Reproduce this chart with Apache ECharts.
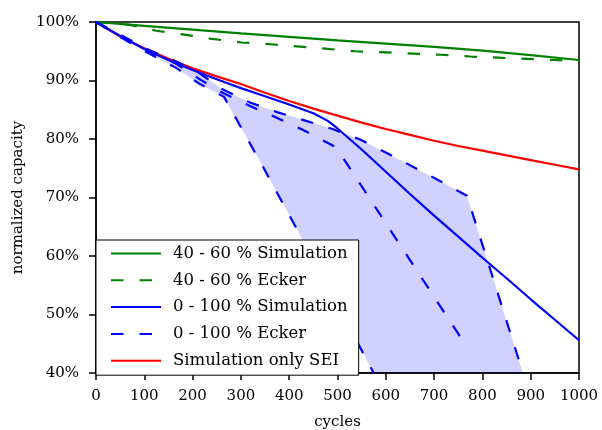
<!DOCTYPE html>
<html>
<head>
<meta charset="utf-8">
<script src="https://cdn.jsdelivr.net/npm/echarts@6/dist/echarts.min.js"></script>
<style>
  html, body { margin: 0; padding: 0; background: #fff; }
  #chart { width: 602px; height: 430px; }
</style>
</head>
<body>
<div id="chart"></div>
<script>
// Capacity fade over cycles: [cycle, normalized capacity in %]
const sim4060 = [[0,100],[100,99.35],[200,98.7],[300,98.05],[400,97.45],[500,96.85],[600,96.3],[700,95.75],[800,95.1],[900,94.35],[1000,93.5]];
const ecker4060 = [[0,100],[70,99.5],[125,98.5],[186,97.8],[241,97.1],[302,96.5],[362,96.2],[422,95.8],[480,95.4],[536,95.0],[600,94.8],[657,94.6],[715,94.4],[775,94.1],[833,93.9],[892,93.7],[950,93.5],[1000,93.3]];
const sim0100 = [[0,100],[50,97.6],[100,95.4],[150,93.5],[200,91.8],[250,90.2],[300,88.7],[350,87.3],[400,85.9],[450,84.4],[480,83.1],[500,81.8],[525,80.0],[550,78.2],[600,74.4],[650,70.6],[700,66.9],[750,63.3],[800,59.7],[850,56.2],[900,52.6],[950,49.1],[1000,45.6]];
// Ecker 0-100 % measurements: upper, middle and lower cell
const ecker0100Max = [[0,100],[55,97.6],[110,95.2],[165,93.3],[215,91.2],[262,88.5],[320,86.2],[375,84.6],[435,83.1],[490,81.7],[547,79.9],[600,77.7],[660,75.1],[715,72.7],[768,70.3],[884,40]];
const ecker0100Mid = [[0,100],[55,97.4],[110,94.9],[165,92.9],[215,90.2],[262,87.9],[320,85.6],[375,83.6],[430,81.5],[497,78.6],[754,46.2]];
const ecker0100Min = [[0,100],[55,97.2],[110,94.6],[165,92.2],[215,89.4],[265,87.2],[346,75.2],[427,62.9],[575,40]];
const simSEI = [[0,100],[50,97.5],[100,95.5],[150,93.7],[200,92.1],[250,90.7],[300,89.4],[350,87.9],[400,86.5],[450,85.2],[500,84.0],[550,82.8],[600,81.7],[650,80.7],[700,79.7],[750,78.8],[800,78.0],[850,77.2],[900,76.4],[950,75.6],[1000,74.8]];

const legendNames = ['40 - 60 % Simulation', '40 - 60 % Ecker', '0 - 100 % Simulation', '0 - 100 % Ecker', 'Simulation only SEI'];

const FONT = '"DejaVu Serif", serif';
const DASH = [12.5, 16];
const GREEN = '#008000', BLUE = '#0000ff', RED = '#ff0000';

function line(name, data, color, dashed, z) {
  return {
    type: 'line', name, data, z,
    symbol: 'none', showSymbol: false, smooth: false,
    lineStyle: { color, width: 2.2, type: dashed ? DASH : 'solid', cap: 'butt' },
    itemStyle: { color },
    emphasis: { disabled: true },
    silent: true
  };
}

const chart = echarts.init(document.getElementById('chart'), null, { renderer: 'canvas' });

chart.setOption({
  animation: false,
  backgroundColor: '#fff',
  textStyle: { fontFamily: FONT },
  grid: {
    left: 96, right: 23, top: 22, bottom: 57,
    containLabel: false, outerBoundsMode: 'none',
    show: true, borderColor: '#000', borderWidth: 1.5, backgroundColor: 'transparent'
  },
  xAxis: {
    type: 'value', min: 0, max: 1000, interval: 100,
    name: 'cycles', nameLocation: 'middle', nameGap: 42,
    nameTextStyle: { fontFamily: FONT, fontSize: 15, color: '#000' },
    axisLine: { show: true, lineStyle: { color: '#000', width: 1.5 } },
    axisTick: { show: true, inside: false, length: 7, lineStyle: { color: '#000', width: 1.5 } },
    axisLabel: { fontFamily: FONT, fontSize: 15, color: '#000', margin: 16, formatter: v => String(v) },
    splitLine: { show: false }
  },
  yAxis: {
    type: 'value', min: 40, max: 100, interval: 10,
    name: 'normalized capacity', nameLocation: 'middle', nameGap: 63,
    nameTextStyle: { fontFamily: FONT, fontSize: 15, color: '#000' },
    axisLine: { show: true, lineStyle: { color: '#000', width: 1.5 } },
    axisTick: { show: true, inside: false, length: 7, lineStyle: { color: '#000', width: 1.5 } },
    axisLabel: { fontFamily: FONT, fontSize: 15, color: '#000', margin: 17, formatter: '{value}%' },
    splitLine: { show: false }
  },
  legend: {
    data: legendNames,
    orient: 'vertical', left: 96, top: 240,
    itemWidth: 50, itemHeight: 14, itemGap: 9.8,
    padding: [5, 11, 6, 14],
    backgroundColor: '#fff', borderColor: '#000', borderWidth: 1, borderRadius: 0,
    itemStyle: { color: 'rgba(0,0,0,0)', borderWidth: 0, opacity: 0 },
    textStyle: { fontFamily: FONT, fontSize: 16.5, color: '#000', padding: [0, 0, 0, 7] },
    selectedMode: false
  },
  series: [
    {
      // shaded spread between the upper and lower Ecker 0-100 % cells
      type: 'custom', name: 'spread', silent: true, clip: true, z: 1,
      data: [[0, 100]],
      renderItem: function (params, api) {
        const upper = ecker0100Max.map(p => api.coord(p));
        const lower = ecker0100Min.slice().reverse().map(p => api.coord(p));
        return {
          type: 'polygon',
          shape: { points: upper.concat(lower) },
          style: { fill: 'rgba(0,0,255,0.18)' }
        };
      }
    },
    line('Simulation only SEI', simSEI, RED, false, 2),
    line('40 - 60 % Simulation', sim4060, GREEN, false, 3),
    line('40 - 60 % Ecker', ecker4060, GREEN, true, 3),
    line('0 - 100 % Simulation', sim0100, BLUE, false, 3),
    line('0 - 100 % Ecker', ecker0100Max, BLUE, true, 3),
    line('0 - 100 % Ecker', ecker0100Mid, BLUE, true, 3),
    line('0 - 100 % Ecker', ecker0100Min, BLUE, true, 3)
  ]
});
</script>
</body>
</html>
